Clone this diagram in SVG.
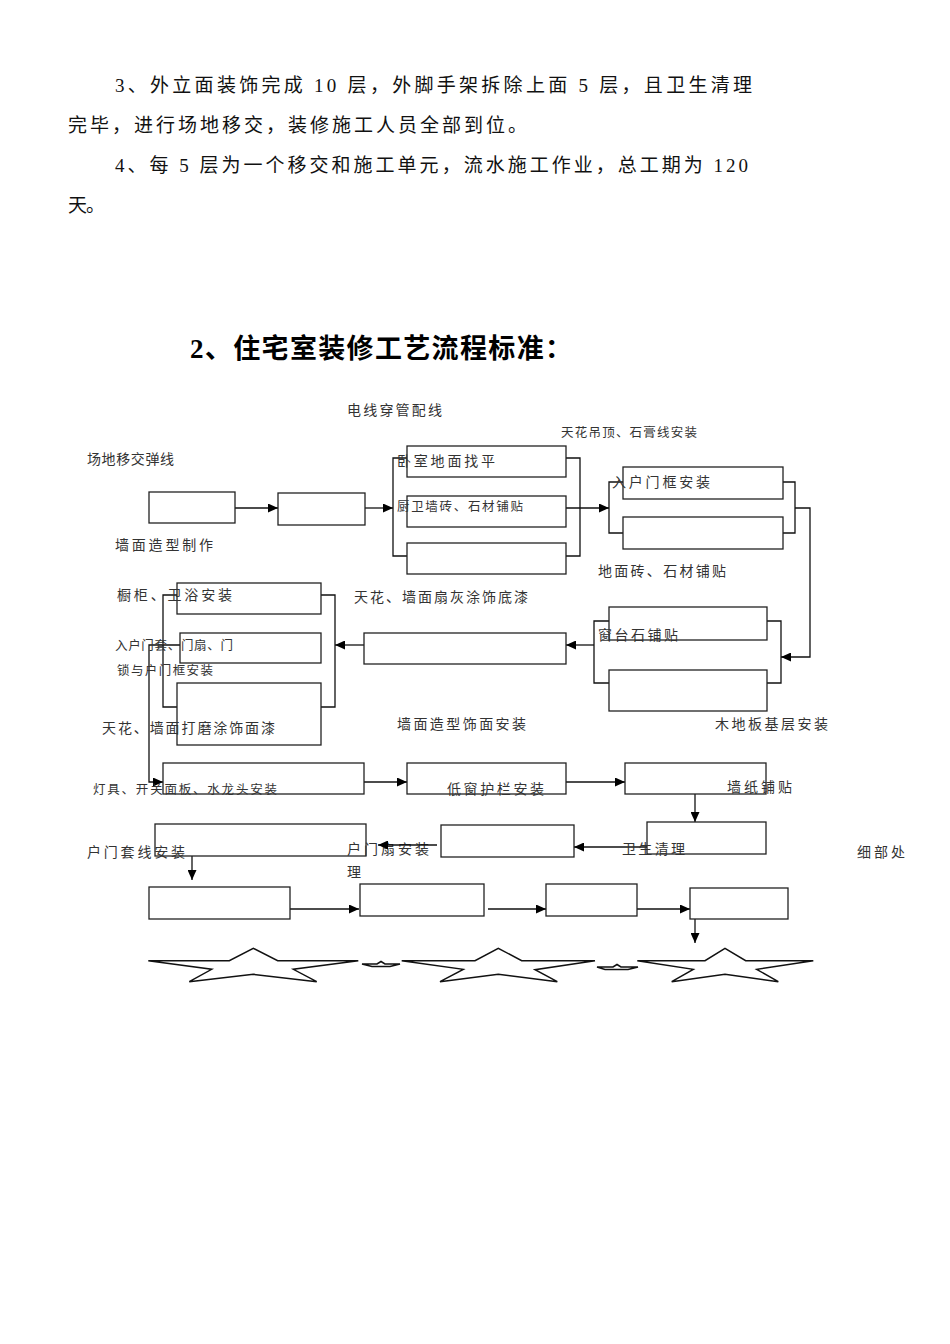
<svg xmlns="http://www.w3.org/2000/svg" width="950" height="1344" viewBox="0 0 950 1344">
<style>
.p{font-family:"Liberation Serif","Noto Sans CJK SC",serif;font-size:19px;fill:#111}
.t{font-family:"Liberation Serif","Noto Sans CJK SC",serif;font-size:27px;font-weight:bold;fill:#000}
.l{font-family:"Noto Sans CJK SC",sans-serif;font-size:14px;fill:#333}
.s{font-family:"Noto Sans CJK SC",sans-serif;font-size:12.5px;fill:#333}
.box{fill:#fff;stroke:#222;stroke-width:1.3}
.c{fill:none;stroke:#111;stroke-width:1.3}
.star{fill:#fff;stroke:#111;stroke-width:1.5;stroke-linejoin:miter}
</style>
<defs>
<marker id="ah" markerUnits="userSpaceOnUse" markerWidth="10" markerHeight="9" refX="10" refY="4.5" orient="auto">
<path d="M0,0 L10,4.5 L0,9 z" fill="#000"/>
</marker>
</defs>
<rect width="950" height="1344" fill="#fff"/>

<g id="paragraphs">
<text class="p" x="115" y="92" textLength="637" lengthAdjust="spacing">3、外立面装饰完成 10 层，外脚手架拆除上面 5 层，且卫生清理</text>
<text class="p" x="68" y="132" textLength="459" lengthAdjust="spacing">完毕，进行场地移交，装修施工人员全部到位。</text>
<text class="p" x="115" y="172" textLength="633" lengthAdjust="spacing">4、每 5 层为一个移交和施工单元，流水施工作业，总工期为 120</text>
<text class="p" x="68" y="212" textLength="37" lengthAdjust="spacing">天。</text>
<text class="t" x="190" y="358" textLength="382" lengthAdjust="spacing">2、住宅室装修工艺流程标准：</text>
</g>

<g id="connectors">
<path class="c" d="M235,508 H278" marker-end="url(#ah)"/>
<path class="c" d="M365,508 H393" marker-end="url(#ah)"/>
<path class="c" d="M408,458 H393 V556 H408"/>
<path class="c" d="M566,458 H580 V556 H566"/>
<path class="c" d="M566,508 H609" marker-end="url(#ah)"/>
<path class="c" d="M623,482 H609 V533 H623"/>
<path class="c" d="M783,482 H795 V533 H783"/>
<path class="c" d="M795,508 H810 V657 H781" marker-end="url(#ah)"/>
<path class="c" d="M609,621 H594 V683 H609"/>
<path class="c" d="M767,621 H781 V683 H767"/>
<path class="c" d="M594,645 H566" marker-end="url(#ah)"/>
<path class="c" d="M364,645 H335" marker-end="url(#ah)"/>
<path class="c" d="M177,595 H163 V707 H177"/>
<path class="c" d="M321,595 H335 V707 H321"/>
<path class="c" d="M180,645 H149 V782 H163" marker-end="url(#ah)"/>
<path class="c" d="M364,782 H407" marker-end="url(#ah)"/>
<path class="c" d="M566,782 H625" marker-end="url(#ah)"/>
<path class="c" d="M695,794 V822" marker-end="url(#ah)"/>
<path class="c" d="M647,847 H574" marker-end="url(#ah)"/>
<path class="c" d="M192,856 V880" marker-end="url(#ah)"/>
<path class="c" d="M287,909 H359" marker-end="url(#ah)"/>
<path class="c" d="M488,909 H546" marker-end="url(#ah)"/>
<path class="c" d="M632,909 H690" marker-end="url(#ah)"/>
<path class="c" d="M695,919 V943" marker-end="url(#ah)"/>
</g>

<g id="node-A">
<rect class="box" x="149" y="492" width="86" height="31"/>
<text class="l" x="87" y="464" textLength="87" lengthAdjust="spacing">场地移交弹线</text>
</g>
<g id="node-B">
<rect class="box" x="278" y="493" width="87" height="32"/>
<text class="l" x="347" y="415" textLength="95" lengthAdjust="spacing">电线穿管配线</text>
</g>
<g id="node-C1">
<rect class="box" x="407" y="446" width="159" height="31"/>
<text class="l" x="397" y="466" textLength="98" lengthAdjust="spacing">卧室地面找平</text>
</g>
<g id="node-C2">
<rect class="box" x="407" y="496" width="159" height="31"/>
<text class="s" x="397" y="511" textLength="126" lengthAdjust="spacing">厨卫墙砖、石材铺贴</text>
</g>
<g id="node-C3">
<rect class="box" x="407" y="543" width="159" height="31"/>
<text class="l" x="115" y="550" textLength="98" lengthAdjust="spacing">墙面造型制作</text>
</g>
<g id="node-D1">
<rect class="box" x="623" y="467" width="160" height="32"/>
<text class="s" x="561" y="437" textLength="136" lengthAdjust="spacing">天花吊顶、石膏线安装</text>
<text class="l" x="612" y="487" textLength="98" lengthAdjust="spacing">入户门框安装</text>
</g>
<g id="node-D2">
<rect class="box" x="623" y="517" width="160" height="32"/>
<text class="l" x="598" y="576" textLength="128" lengthAdjust="spacing">地面砖、石材铺贴</text>
</g>
<g id="node-E1">
<rect class="box" x="609" y="607" width="158" height="33"/>
<text class="l" x="598" y="640" textLength="80" lengthAdjust="spacing">窗台石铺贴</text>
</g>
<g id="node-E2">
<rect class="box" x="609" y="670" width="158" height="41"/>
<text class="l" x="715" y="729" textLength="113" lengthAdjust="spacing">木地板基层安装</text>
</g>
<g id="node-F">
<rect class="box" x="364" y="633" width="202" height="31"/>
<text class="l" x="354" y="602" textLength="174" lengthAdjust="spacing">天花、墙面扇灰涂饰底漆</text>
<text class="l" x="397" y="729" textLength="129" lengthAdjust="spacing">墙面造型饰面安装</text>
</g>
<g id="node-G1">
<rect class="box" x="177" y="583" width="144" height="31"/>
<text class="l" x="117" y="600" textLength="115" lengthAdjust="spacing">橱柜、卫浴安装</text>
</g>
<g id="node-G2">
<rect class="box" x="180" y="633" width="141" height="30"/>
<text class="s" x="115" y="650" textLength="118" lengthAdjust="spacing">入户门套、门扇、门</text>
<text class="s" x="117" y="675" textLength="96" lengthAdjust="spacing">锁与户门框安装</text>
</g>
<g id="node-G3">
<rect class="box" x="177" y="683" width="144" height="62"/>
<text class="l" x="102" y="733" textLength="173" lengthAdjust="spacing">天花、墙面打磨涂饰面漆</text>
</g>
<g id="node-H">
<rect class="box" x="163" y="763" width="201" height="31"/>
<text class="s" x="93" y="794" textLength="184" lengthAdjust="spacing">灯具、开关面板、水龙头安装</text>
</g>
<g id="node-I">
<rect class="box" x="407" y="763" width="159" height="31"/>
<text class="l" x="447" y="794" textLength="97" lengthAdjust="spacing">低窗护栏安装</text>
</g>
<g id="node-J">
<rect class="box" x="625" y="763" width="141" height="31"/>
<text class="l" x="727" y="792" textLength="65" lengthAdjust="spacing">墙纸铺贴</text>
</g>
<g id="node-K">
<rect class="box" x="647" y="822" width="119" height="32"/>
<text class="l" x="622" y="854" textLength="63" lengthAdjust="spacing">卫生清理</text>
<text class="l" x="857" y="857" textLength="48" lengthAdjust="spacing">细部处</text>
</g>
<g id="node-M">
<rect class="box" x="155" y="824" width="211" height="32"/>
<text class="l" x="87" y="857" textLength="98" lengthAdjust="spacing">户门套线安装</text>
</g>
<g id="node-L">
<rect class="box" x="441" y="825" width="133" height="32"/>
<text class="l" x="347" y="854" textLength="82" lengthAdjust="spacing">户门扇安装</text>
<text class="l" x="347" y="877">理</text>
<path class="c" d="M437,845 H378" marker-end="url(#ah)"/>
</g>
<g id="node-N">
<rect class="box" x="149" y="887" width="141" height="32"/>
</g>
<g id="node-O">
<rect class="box" x="360" y="884" width="124" height="32"/>
</g>
<g id="node-P">
<rect class="box" x="546" y="884" width="91" height="32"/>
</g>
<g id="node-Q">
<rect class="box" x="690" y="888" width="98" height="31"/>
</g>

<g id="stars">
<polygon class="star" points="148.3,960.7 229.3,960.7 253.3,948.3 277.7,960.7 358.3,960.7 293.3,969.3 316.7,981.7 253.3,974.3 189.3,981.7 211.7,969.3"/>
<polygon class="star" points="362,964 377,964 381,961.5 385,964 400,964 390,966.5 372,966.5"/>
<polygon class="star" points="401.7,960.7 475,960.7 498.3,948.3 521.7,960.7 595,960.7 535,969.7 557.3,981.7 498.3,974.3 440,981.7 463.3,969.3"/>
<polygon class="star" points="597,967 613,967 617,964.5 621,967 638,967 628,969.5 605,969.5"/>
<polygon class="star" points="637.3,960.7 705,960.7 725,948.3 745.7,960.7 813.3,960.7 756.7,969.3 778.3,981.7 725,974.3 671.7,981.7 693.3,969.3"/>
</g>
</svg>
